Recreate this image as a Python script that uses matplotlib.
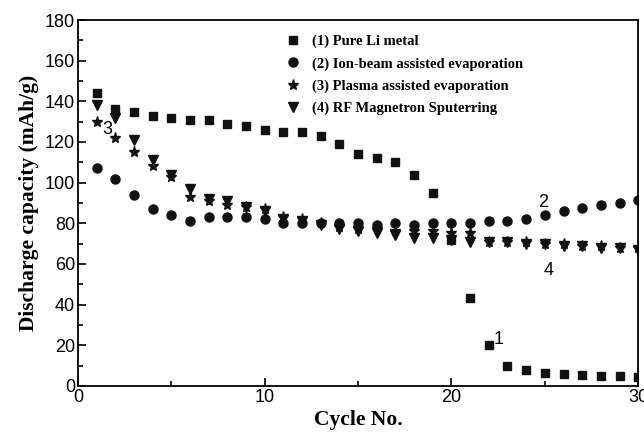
import matplotlib.pyplot as plt
from matplotlib.ticker import MultipleLocator

cycles = list(range(1, 31))

pure_li = [144, 136, 135, 133, 132, 131, 131, 129, 128, 126,
           125, 125, 123, 119, 114, 112, 110, 104, 95, 72,
           43, 20, 10, 8, 6.5, 6, 5.5, 5, 5, 4.5]
ion_beam = [107, 102, 94, 87, 84, 81, 83, 83, 83, 82,
            80, 80, 80, 80, 80, 79, 80, 79, 80, 80,
            80, 81, 81, 82, 84, 86, 87.5, 89, 90, 91.5]
plasma = [130, 122, 115, 108, 103, 93, 91, 89, 88, 87,
          83, 82, 80, 78, 77, 77, 76, 76, 76, 75,
          75, 71, 71, 71, 70, 70, 69, 69, 68, 68]
rf_sputter = [138, 132, 121, 111, 104, 97, 92, 91, 88, 86,
              82, 81, 79, 77, 76, 75, 74, 73, 73, 72,
              71, 71, 71, 70, 70, 69, 69, 68, 68, 67]

labels = ["(1) Pure Li metal",
          "(2) Ion-beam assisted evaporation",
          "(3) Plasma assisted evaporation",
          "(4) RF Magnetron Sputerring"]

fig = plt.figure(figsize=(6.44, 4.36), dpi=100)
ax = fig.add_axes([0.121, 0.115, 0.870, 0.839])

c = "#111111"
ax.plot(cycles, pure_li, "s", color=c, ms=6, label=labels[0])
ax.plot(cycles, ion_beam, "o", color=c, ms=6.5, label=labels[1])
ax.plot(cycles, plasma, "*", color=c, ms=8, label=labels[2])
ax.plot(cycles, rf_sputter, "v", color=c, ms=7.5, label=labels[3])

ax.set_xlim(0, 30)
ax.set_ylim(0, 180)
ax.xaxis.set_major_locator(MultipleLocator(10))
ax.xaxis.set_minor_locator(MultipleLocator(5))
ax.yaxis.set_major_locator(MultipleLocator(20))
ax.yaxis.set_minor_locator(MultipleLocator(10))
ax.tick_params(which="both", direction="in", labelsize=13, width=1.2, pad=2)
ax.tick_params(which="major", length=6)
ax.tick_params(which="minor", length=3.5)
for lbl in ax.get_xticklabels() + ax.get_yticklabels():
    lbl.set_family("Liberation Sans")
for s in ax.spines.values():
    s.set_linewidth(1.3)

ax.set_xlabel("Cycle No.", family="Liberation Serif", fontweight="bold",
              fontsize=15.5, labelpad=3)
ax.set_ylabel("Discharge capacity (mAh/g)", family="Liberation Serif",
              fontweight="bold", fontsize=15.5, labelpad=4)

leg = ax.legend(loc="upper left", bbox_to_anchor=(0.345, 0.995), frameon=False,
                prop={"family": "Liberation Serif", "weight": "bold", "size": 10.5},
                handletextpad=0.7, labelspacing=0.6, handlelength=1.2)

for txt, x, y in [("3", 1.6, 126), ("2", 24.9, 90), ("4", 25.2, 57), ("1", 22.5, 23)]:
    ax.text(x, y, txt, ha="center", va="center", fontsize=13, family="Liberation Sans")

fig.savefig("out.png", dpi=100)
